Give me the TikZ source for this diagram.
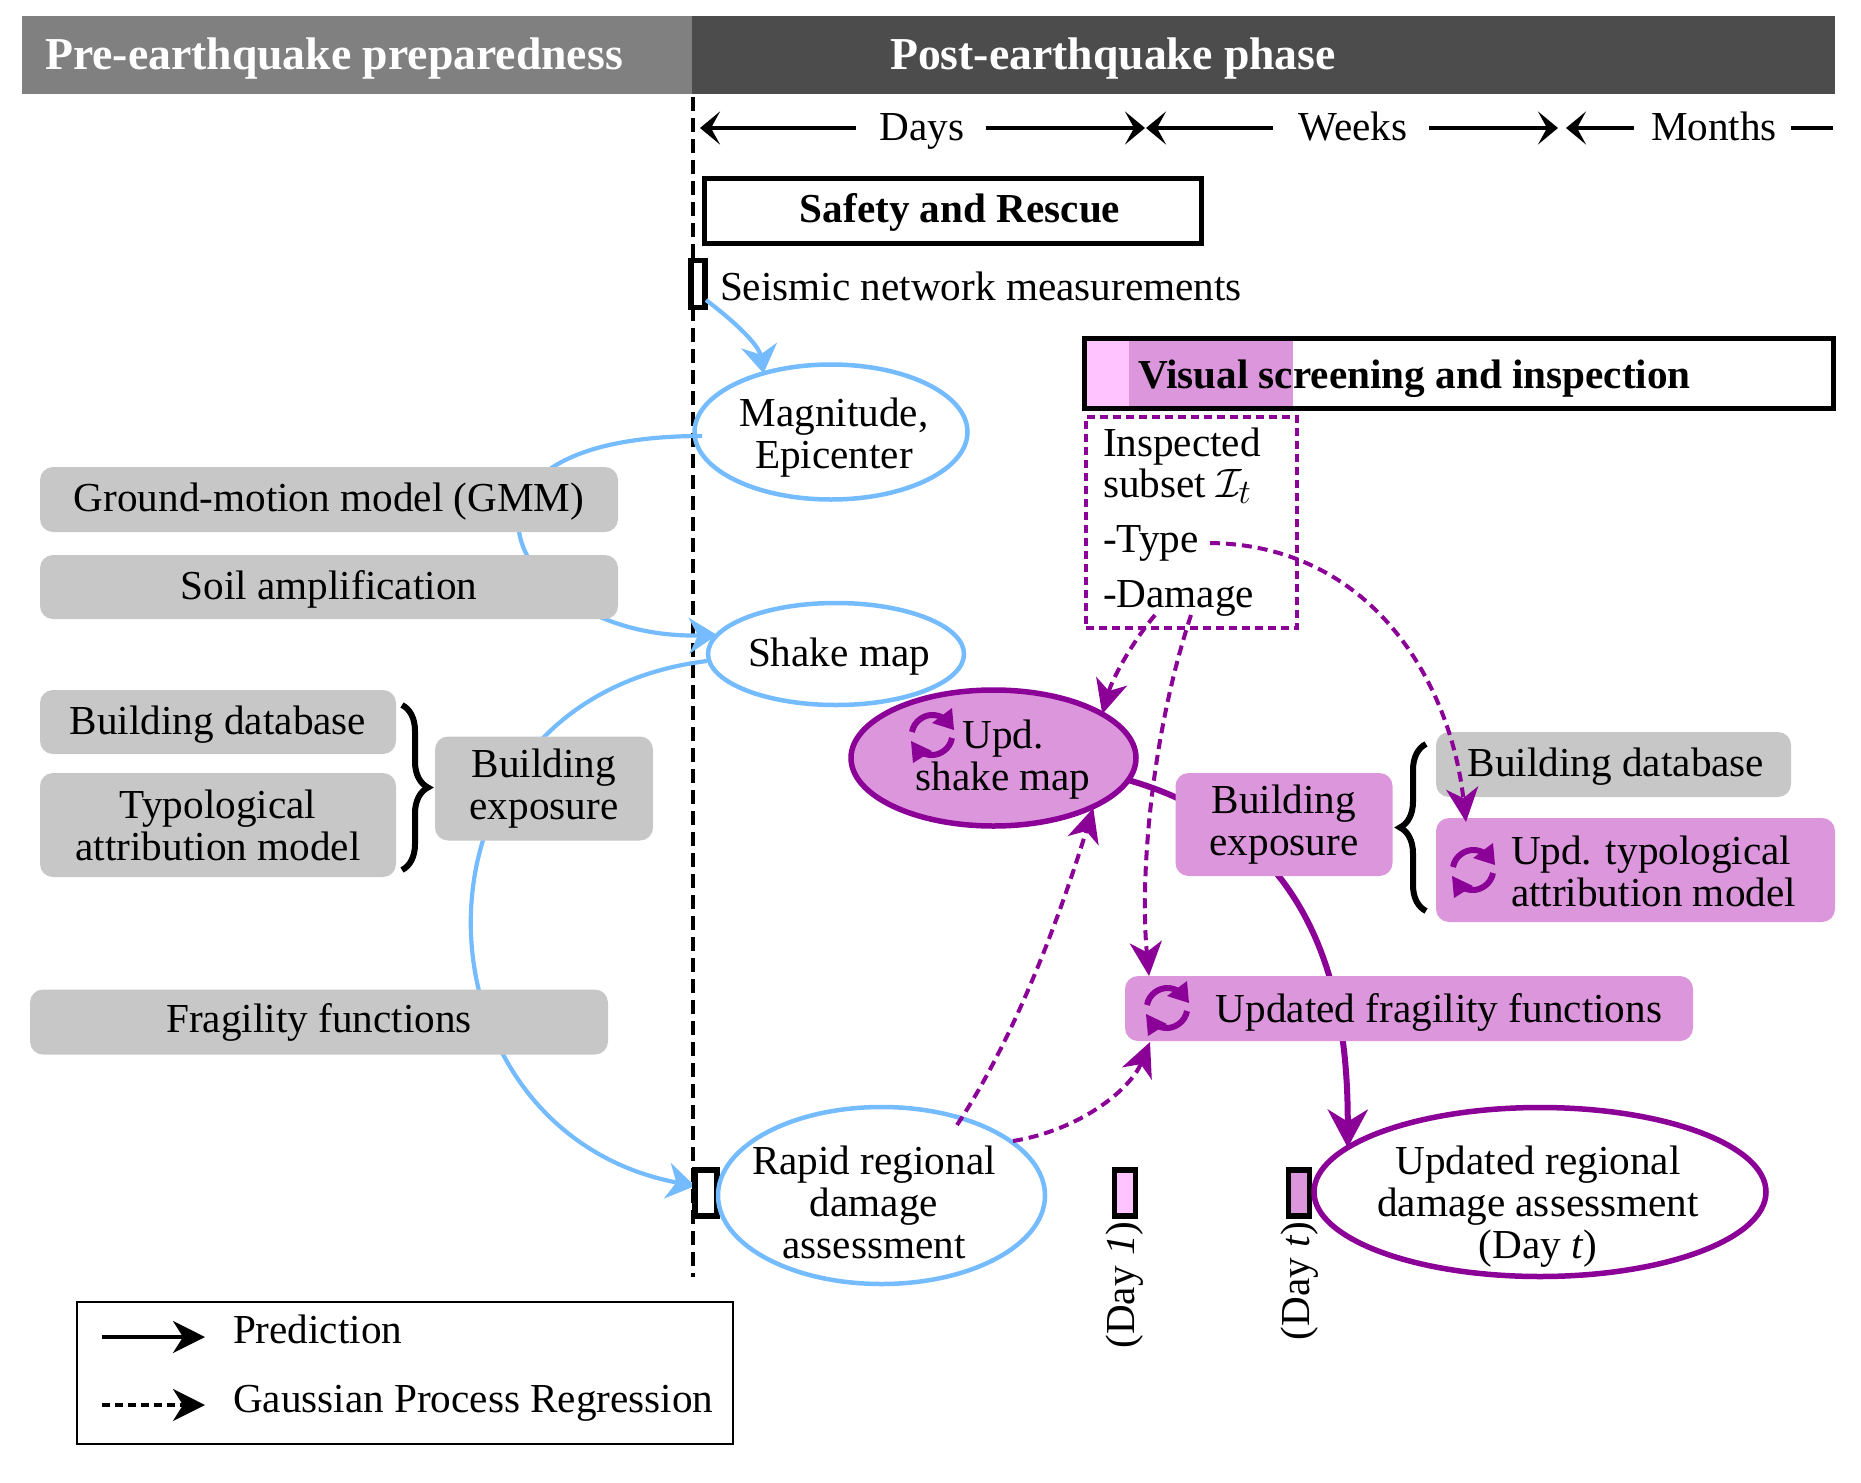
\documentclass[tikz,border=0pt]{standalone}
\usepackage{graphicx}
\usepackage{fontspec}
\setmainfont{Liberation Serif}
\usetikzlibrary{arrows.meta,shapes.geometric,decorations.pathreplacing,calc}
\definecolor{blu}{HTML}{74BBFF}
\definecolor{pur}{HTML}{8B0096}
\definecolor{plum}{HTML}{DC96DC}
\definecolor{pnk}{HTML}{FFC4FF}
\definecolor{gry}{HTML}{C7C7C7}
\tikzset{
  txt/.style={font=\fontsize{41.2}{42}\selectfont,align=center,inner sep=0pt,outer sep=0pt},
  sl/.style={text height=31pt,text depth=7pt},
  gbox/.style={txt,rectangle,rounded corners=13pt,fill=gry,anchor=center},
  pbox/.style={txt,rectangle,rounded corners=13pt,fill=plum,anchor=center},
  bell/.style={txt,ellipse,draw=blu,line width=4.5pt,inner sep=0pt},
  pell/.style={txt,ellipse,draw=pur,line width=5.5pt,inner sep=0pt},
  mark box/.style={rectangle,draw=black,line width=5.5pt,inner sep=0pt,outer sep=0pt},
  blue arrow/.style={draw=blu,line width=4.2pt,-{Stealth[length=28pt,width=36pt,inset=9pt]}},
  pur solid/.style={draw=pur,line width=6pt},
  pur dash/.style={draw=pur,line width=4pt,dash pattern=on 10pt off 6pt,-{Stealth[length=34pt,width=32pt,inset=10pt]}},
  black arrow/.style={draw=black,line width=4pt,-{Stealth[length=20pt,width=33pt,inset=9pt]}},
  updicon/.pic={
    \draw[pur,line width=6pt] (-20,-3) .. controls (-18,-14) and (-8,-20) .. (0,-20) .. controls (4,-20) and (8,-19) .. (11,-17);
    \draw[pur,line width=6pt] (20,3) .. controls (18,14) and (8,20) .. (0,20) .. controls (-4,20) and (-8,19) .. (-11,17);
    \fill[pur] (20,-27) -- (22,-5) -- (0,-12) -- cycle;
    \fill[pur] (-21,6) -- (-19,28) -- (0,16) -- cycle;
  }
}
\begin{document}
\begin{tikzpicture}[x=1pt,y=-1pt]
\useasboundingbox (0,0) rectangle (1861,1483);
% header
\node[rectangle,fill=black!50,minimum width=670pt,minimum height=78pt,inner sep=0pt,anchor=north west] (pre) at (22,16) {};
\node[rectangle,fill=black!70,minimum width=1143pt,minimum height=78pt,inner sep=0pt,anchor=north west] (post) at (692,16) {};
\node[txt,sl,text=white,font=\fontsize{45.7}{46}\selectfont\bfseries] (pretext) at (334,57) {Pre-earthquake preparedness};
\node[txt,sl,text=white,font=\fontsize{45.7}{46}\selectfont\bfseries] (posttext) at (1113,57) {Post-earthquake phase};
% timeline
\coordinate (dtop) at (693,97);
\coordinate (dbot) at (693,1277);
\draw[black,line width=3.5pt,dash pattern=on 14pt off 7pt] (dtop) -- (dbot);
\node[txt,sl] (days) at (922,128) {Days};
\node[txt,sl] (weeks) at (1353,128) {Weeks};
\node[txt,sl] (months) at (1714,128) {Months};
\coordinate (t0) at (700,128);
\coordinate (t1) at (1145,128);
\coordinate (t1b) at (1146,128);
\coordinate (t2) at (1558,128);
\coordinate (t2b) at (1566,128);
\coordinate (t3) at (1833,128);
\draw[black arrow] (856,128) -- (t0);
\draw[black arrow] (986,128) -- (t1);
\draw[black arrow] (1273,128) -- (t1b);
\draw[black arrow] (1429,128) -- (t2);
\draw[black arrow] (1634,128) -- (t2b);
\draw[draw=black,line width=4pt] (1791,128) -- (t3);
% top boxes
\node[txt,rectangle,draw=black,line width=5pt,minimum width=497pt,minimum height=65pt] (safety) at (952.5,210.5) {};
\node[txt,sl,font=\fontsize{41.2}{42}\selectfont\bfseries] (safetytext) at (960,210) {Safety and Rescue};
\node[mark box,fill=white,minimum width=14pt,minimum height=47pt] (seis) at (698,284) {};
\node[txt,sl,anchor=west] (seistext) at (720,288) {Seismic network measurements};
% visual box
\fill[pnk] (1085,339) rectangle (1129,408);
\fill[plum] (1129,339) rectangle (1293,408);
\node[rectangle,draw=black,line width=5pt,inner sep=0pt,minimum width=749pt,minimum height=70pt] (visual) at (1459,373.5) {};
\node[txt,sl,anchor=west,font=\fontsize{41.2}{42}\selectfont\bfseries] (visualtext) at (1138,376) {Visual screening and inspection};
% inspected
\node[rectangle,draw=pur,line width=4pt,dash pattern=on 8pt off 5pt,inner sep=0pt,minimum width=211pt,minimum height=211pt] (insp) at (1191,522.5) {};
\node[txt,sl,anchor=west] (i1) at (1103,444) {Inspected};
\node[txt,sl,anchor=west] (i2) at (1103,485) {subset \scalebox{1.65}{\fontsize{24.88}{25}\selectfont$\mathcal{I}_t$}};
\node[txt,sl,anchor=west] (typetext) at (1103,540) {-Type};
\node[txt,sl,anchor=west] (damagetext) at (1103,595) {-Damage};
% ellipses
\node[bell,minimum width=273pt,minimum height=135pt] (mag) at (831,432) {};
\node[txt] (magtext) at (834,438) {Magnitude,\\Epicenter};
\node[bell,minimum width=256pt,minimum height=102pt] (shake) at (836,654) {};
\node[txt,sl] (shaketext) at (839,654) {Shake map};
% blue curves
\coordinate (seisout) at (706,300);
\draw[blue arrow] (seisout) .. controls (735,322) and (759,345) .. (mag.139);
\coordinate (magstart) at (702,436);
\coordinate (shakestart) at (707,661);
\coordinate (rapidtip) at (695,1186);
\coordinate (shaketip) at (717,635);
\draw[blue arrow] (magstart) .. controls (410,436) and (510,640) .. (shaketip);
\draw[blue arrow] (shakestart) .. controls (392,700) and (402,1130) .. (rapidtip);
% grey boxes
\node[gbox,sl,minimum width=578pt,minimum height=65pt] (gmm) at (329,499.5) {Ground-motion model (GMM)};
\node[gbox,sl,minimum width=578pt,minimum height=64pt] (soil) at (329,587) {Soil amplification};
\node[gbox,sl,minimum width=356pt,minimum height=64pt] (bdb) at (218,722) {Building database};
\node[gbox,minimum width=356pt,minimum height=104pt] (typ) at (218,825) {Typological\\attribution model};
\node[gbox,minimum width=218pt,minimum height=104pt] (bexp) at (544,788.5) {Building\\exposure};
\node[gbox,sl,minimum width=578pt,minimum height=65pt,text height=29pt,text depth=9pt] (frag) at (319,1022) {Fragility functions};
\coordinate (b1a) at (402,705);
\coordinate (b1b) at (402,870);
\draw[black,line width=6pt,decorate,decoration={brace,amplitude=26pt}] (b1a) -- (b1b);
% rapid and updated
\node[mark box,fill=white,minimum width=22pt,minimum height=46pt] (m0) at (706,1193) {};
\node[bell,minimum width=327pt,minimum height=177pt] (rapid) at (881.5,1195.5) {};
\node[txt] (rapidtext) at (874,1202) {Rapid regional\\damage\\assessment};
\node[mark box,fill=pnk,minimum width=21pt,minimum height=46pt] (m1) at (1125,1193) {};
\node[mark box,fill=plum,minimum width=21pt,minimum height=46pt] (m2) at (1299,1193) {};
\node[txt,rotate=90] (d1) at (1125,1285) {(Day \textit{1})};
\node[txt,rotate=90] (d2) at (1300,1281) {(Day \textit{t})};
\node[pell,minimum width=452pt,minimum height=169pt] (updreg) at (1540,1192) {};
\node[txt] (updregtext) at (1538,1207) {Updated regional\\damage assessment\\(Day \textit{t})};
% purple solid path
\coordinate (updshakeend) at (1128,780);
\draw[pur solid,-{Stealth[length=38pt,width=40pt,inset=12pt]}] (updshakeend) .. controls (1320,835) and (1348,1000) .. (updreg.167);
% purple nodes
\node[pell,fill=plum,minimum width=285pt,minimum height=136pt] (updshake) at (993.5,758) {};
\node[txt] (updshaketext) at (1003,760) {Upd.\\shake map};
\pic at (932,735) {updicon};
\node[pbox,minimum width=217pt,minimum height=103pt] (rexp) at (1284,824.5) {Building\\exposure};
\coordinate (b2a) at (1426,911);
\coordinate (b2b) at (1426,744);
\draw[black,line width=6pt,decorate,decoration={brace,amplitude=26pt}] (b2a) -- (b2b);
\node[gbox,minimum width=355pt,minimum height=65pt] (rbdb) at (1613.5,764.5) {};
\node[txt,sl] (rbdbtext) at (1616,764) {Building database};
\node[pbox,minimum width=399pt,minimum height=104pt] (rtyp) at (1635.5,870) {};
\node[txt,align=left,anchor=west] (rtyptext) at (1511,871) {Upd. typological\\attribution model};
\pic at (1473,870) {updicon};
\node[pbox,minimum width=568pt,minimum height=65pt] (rfrag) at (1409,1008.5) {};
\node[txt,sl] (rfragtext) at (1439,1010) {Updated fragility functions};
\pic at (1167,1008) {updicon};
% dashed purple arrows
\coordinate (dmg1) at (1155,615);
\coordinate (dmg2) at (1191,615);
\coordinate (typeend) at (1210,543);
\coordinate (rap1) at (957,1125);
\coordinate (rap2) at (1013,1141);
\draw[pur dash] (dmg1) .. controls (1130,645) and (1112,680) .. (updshake.22);
\draw[pur dash] (dmg2) .. controls (1150,740) and (1140,880) .. ($(rfrag.north west)+(24,0)$);
\draw[pur dash] (typeend) .. controls (1370,545) and (1450,680) .. ($(rtyp.north west)+(30,4)$);
\draw[pur dash] (rap1) .. controls (1020,1030) and (1065,900) .. ($(updshake.south east)+(-1,2)$);
\draw[pur dash] (rap2) .. controls (1080,1130) and (1130,1090) .. ($(rfrag.south west)+(25,1)$);
% legend
\node[rectangle,draw=black,line width=2.5pt,inner sep=0pt,minimum width=656pt,minimum height=142pt] (legend) at (405,1373) {};
\coordinate (la1) at (102,1337);
\coordinate (la2) at (205,1337);
\coordinate (lb1) at (102,1405);
\coordinate (lb2) at (205,1405);
\draw[black,line width=3.5pt,-{Stealth[length=32pt,width=32pt,inset=10pt]}] (la1) -- (la2);
\draw[black,line width=3.5pt,dash pattern=on 8pt off 5pt,-{Stealth[length=32pt,width=32pt,inset=10pt]}] (lb1) -- (lb2);
\node[txt,sl,anchor=west] (l1) at (233,1331) {Prediction};
\node[txt,sl,anchor=west] (l2) at (233,1400) {Gaussian Process Regression};
\end{tikzpicture}
\end{document}
